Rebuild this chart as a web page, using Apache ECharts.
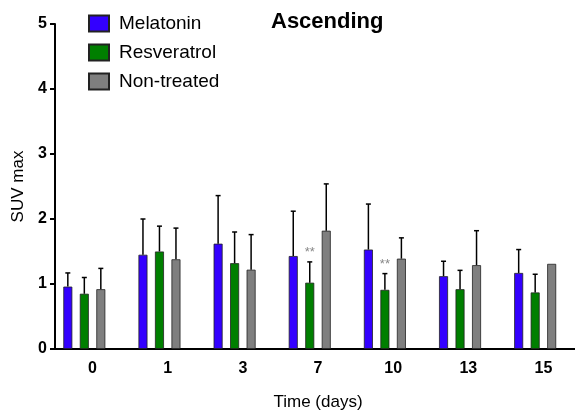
<!DOCTYPE html>
<html>
<head>
<meta charset="utf-8">
<script src="https://cdn.jsdelivr.net/npm/echarts@6/dist/echarts.min.js"></script>
<style>
  html, body { margin: 0; padding: 0; background: #fff; }
  #chart { width: 575px; height: 410px; }
</style>
</head>
<body>
<div id="chart"></div>
<script>
// 横轴类别（天）
const days = ['0', '1', '3', '7', '10', '13', '15']
// 各组均值
const melatonin = [0.96, 1.45, 1.62, 1.43, 1.53, 1.12, 1.17]
const resveratrol = [0.85, 1.50, 1.32, 1.02, 0.91, 0.92, 0.87]
const nonTreated = [0.92, 1.38, 1.22, 1.82, 1.39, 1.29, 1.31]
// 各组标准差（只画向上的误差线）
const melatoninSd = [0.21, 0.55, 0.74, 0.69, 0.70, 0.23, 0.36]
const resveratrolSd = [0.25, 0.39, 0.48, 0.32, 0.25, 0.29, 0.28]
const nonTreatedSd = [0.32, 0.48, 0.54, 0.72, 0.32, 0.53, 0]
// 显著性标记（Resveratrol）
const resveratrolSig = ['', '', '', '**', '**', '', '']
// 纵轴刻度
const yTicks = [0, 1, 2, 3, 4, 5]

const names = ['Melatonin', 'Resveratrol', 'Non-treated']
const colors = ['#3300ff', '#007f00', '#7f7f7f']
const barWidth = 9
const barStep = 16.5 // 柱宽 + 间距

const font = 'Arial, "Liberation Sans", sans-serif'

// 误差线数据：[类别序号, 均值, 标准差, 组序号, 标记]
function errData(means, sds, s, sig) {
  return means.map((v, i) => [i, v, sds[i], s, sig ? sig[i] : ''])
}

const errAll = [
  errData(melatonin, melatoninSd, 0),
  errData(resveratrol, resveratrolSd, 1, resveratrolSig),
  errData(nonTreated, nonTreatedSd, 2)
]

function renderErr(params, api) {
  const i = api.value(0)
  const mean = api.value(1)
  const sd = api.value(2)
  const s = api.value(3)
  const mark = errAll[s][params.dataIndex][4]
  const base = api.coord([i, mean])
  const top = api.coord([i, mean + sd])
  const x = base[0] + (s - 1.5) * barStep
  const children = []
  if (sd > 0) {
    children.push({
      type: 'line',
      shape: {x1: x, y1: base[1], x2: x, y2: top[1]},
      style: {stroke: '#000', lineWidth: 1.5}
    })
    children.push({
      type: 'line',
      shape: {x1: x - 2.5, y1: top[1], x2: x + 2.5, y2: top[1]},
      style: {stroke: '#000', lineWidth: 1.5}
    })
  }
  if (mark) {
    children.push({
      type: 'text',
      style: {
        text: mark, x: x, y: top[1] - 3,
        textAlign: 'center', textVerticalAlign: 'bottom',
        fill: '#888', font: '13px ' + font
      }
    })
  }
  return {type: 'group', children: children}
}

const myChart = echarts.init(document.getElementById('chart'))

const barSeries = [melatonin, resveratrol, nonTreated].map((d, s) => ({
  name: names[s],
  type: 'bar',
  data: d,
  barWidth: barWidth,
  barGap: ((barStep - barWidth) / barWidth * 100) + '%',
  itemStyle: {color: colors[s], borderColor: '#222', borderWidth: 0.8},
  emphasis: {disabled: true}
}))
// 占位柱（原图每组右侧空一格）
barSeries.push({
  name: 'spacer',
  type: 'bar',
  data: days.map(() => 0),
  barWidth: barWidth,
  itemStyle: {color: 'transparent'},
  silent: true
})

const errSeries = errAll.map((d) => ({
  type: 'custom',
  renderItem: renderErr,
  data: d,
  z: 5,
  silent: true
}))

myChart.setOption({
  animation: false,
  title: {
    text: 'Ascending',
    left: 266,
    top: 6,
    textStyle: {fontFamily: font, fontSize: 22, fontWeight: 'bold', color: '#000'}
  },
  legend: {
    data: names,
    orient: 'vertical',
    left: 83,
    top: 9,
    itemWidth: 20,
    itemHeight: 16,
    itemGap: 10,
    icon: 'rect',
    selectedMode: false,
    textStyle: {fontFamily: font, fontSize: 19, color: '#000', padding: [0, 0, 0, 5]}
  },
  grid: {
    left: 55,
    right: -6,
    top: 24,
    bottom: 61,
    outerBoundsMode: 'none'
  },
  xAxis: {
    type: 'category',
    data: days,
    name: 'Time (days)',
    nameLocation: 'middle',
    nameGap: 45,
    nameTextStyle: {fontFamily: font, fontSize: 17, color: '#000'},
    axisLine: {lineStyle: {color: '#000', width: 2}},
    axisTick: {alignWithLabel: true, length: 5, lineStyle: {color: '#000', width: 2}},
    axisLabel: {fontFamily: font, fontSize: 16, fontWeight: 'bold', color: '#000', margin: 12}
  },
  yAxis: {
    type: 'value',
    min: yTicks[0],
    max: yTicks[yTicks.length - 1],
    interval: 1,
    name: 'SUV max',
    nameLocation: 'middle',
    nameRotate: 90,
    nameGap: 24,
    nameTextStyle: {fontFamily: font, fontSize: 17, color: '#000'},
    splitLine: {show: false},
    axisLine: {show: true, lineStyle: {color: '#000', width: 2}},
    axisTick: {show: true, length: 5, lineStyle: {color: '#000', width: 2}},
    axisLabel: {fontFamily: font, fontSize: 16, fontWeight: 'bold', color: '#000', margin: 8}
  },
  series: barSeries.concat(errSeries)
})
</script>
</body>
</html>
